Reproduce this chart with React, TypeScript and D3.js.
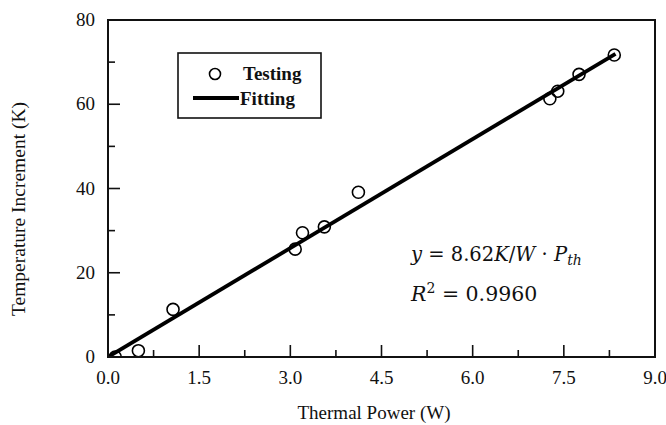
import React from "react";
import * as d3 from "d3";

const testPower = [0.12, 0.5, 1.07, 3.08, 3.2, 3.56, 4.12, 7.27, 7.4, 7.75, 8.33];
const testTemp = [0, 1.5, 11.3, 25.6, 29.5, 30.9, 39.1, 61.3, 63.1, 67.1, 71.7];
const fitSlope = 8.62;
const fitRange = [0, 8.35];
const xTicks = [0, 1.5, 3.0, 4.5, 6.0, 7.5, 9.0];
const xMinor = [0.75, 2.25, 3.75, 5.25, 6.75, 8.25];
const yTicks = [0, 20, 40, 60, 80];
const yMinor = [10, 30, 50, 70];

const W = 666, H = 425;
const L = 108, R = 655, T = 20, B = 357;

export default function App() {
  const x = d3.scaleLinear().domain([0, 9]).range([L, R]);
  const y = d3.scaleLinear().domain([0, 80]).range([B, T]);
  const line = d3.line<number>().x((d) => x(d)).y((d) => y(fitSlope * d));
  const font = "'Liberation Serif', 'Times New Roman', serif";
  const mathFont = "'DejaVu Serif', serif";
  return (
    <svg width={W} height={H} style={{ position: "absolute", left: 0, top: 0, background: "#fff" }}>
      <defs>
        <clipPath id="plot">
          <rect x={L} y={T} width={R - L} height={B - T} />
        </clipPath>
      </defs>
      {/* ticks */}
      {xTicks.map((t) => (
        <line key={"xt" + t} x1={x(t)} x2={x(t)} y1={B} y2={B - 12} stroke="#111" strokeWidth={1.6} />
      ))}
      {xMinor.map((t) => (
        <line key={"xm" + t} x1={x(t)} x2={x(t)} y1={B} y2={B - 7} stroke="#111" strokeWidth={1.6} />
      ))}
      {yTicks.map((t) => (
        <line key={"yt" + t} x1={L} x2={L + 12} y1={y(t)} y2={y(t)} stroke="#111" strokeWidth={1.6} />
      ))}
      {yMinor.map((t) => (
        <line key={"ym" + t} x1={L} x2={L + 7} y1={y(t)} y2={y(t)} stroke="#111" strokeWidth={1.6} />
      ))}
      {/* data */}
      <g clipPath="url(#plot)">
        <path d={line(fitRange) || ""} stroke="#000" strokeWidth={3.8} fill="none" />
        {testPower.map((p, i) => (
          <circle key={i} cx={x(p)} cy={y(testTemp[i])} r={6} fill="none" stroke="#000" strokeWidth={1.6} />
        ))}
      </g>
      <rect x={L} y={T} width={R - L} height={B - T} fill="none" stroke="#111" strokeWidth={2} />
      {/* tick labels */}
      {xTicks.map((t) => (
        <text key={"xl" + t} x={x(t)} y={384} textAnchor="middle" fontFamily={font} fontSize={19} fill="#111">
          {d3.format(".1f")(t)}
        </text>
      ))}
      {yTicks.map((t) => (
        <text key={"yl" + t} x={95} y={y(t) + 6} textAnchor="end" fontFamily={font} fontSize={19} fill="#111">
          {t}
        </text>
      ))}
      <text x={374} y={419} textAnchor="middle" fontFamily={font} fontSize={19} fill="#111">
        Thermal Power (W)
      </text>
      <text transform={`translate(25,209) rotate(-90)`} textAnchor="middle" fontFamily={font} fontSize={19.5} fill="#111">
        Temperature Increment (K)
      </text>
      {/* legend */}
      <rect x={178} y={53} width={143} height={65} fill="#fff" stroke="#111" strokeWidth={1.6} />
      <circle cx={215} cy={74} r={5.5} fill="none" stroke="#000" strokeWidth={1.6} />
      <text x={243} y={80} fontFamily={font} fontSize={19} fontWeight="bold" fill="#111">Testing</text>
      <line x1={193} x2={239} y1={98} y2={98} stroke="#000" strokeWidth={3.8} />
      <text x={240} y={105} fontFamily={font} fontSize={19} fontWeight="bold" fill="#111">Fitting</text>
      {/* equation */}
      <text x={411} y={261} fontFamily={mathFont} fontSize={19.5} fill="#111">
        <tspan fontStyle="italic">y</tspan>
        <tspan> = 8.62</tspan>
        <tspan fontStyle="italic">K</tspan>
        <tspan>/</tspan>
        <tspan fontStyle="italic">W</tspan>
        <tspan> · </tspan>
        <tspan fontStyle="italic">P</tspan>
        <tspan fontStyle="italic" fontSize={14} dy={4}>th</tspan>
      </text>
      <text x={411} y={301} fontFamily={mathFont} fontSize={20.5} fill="#111">
        <tspan fontStyle="italic">R</tspan>
        <tspan fontSize={14} dy={-8}>2</tspan>
        <tspan dy={8}> = 0.9960</tspan>
      </text>
    </svg>
  );
}
